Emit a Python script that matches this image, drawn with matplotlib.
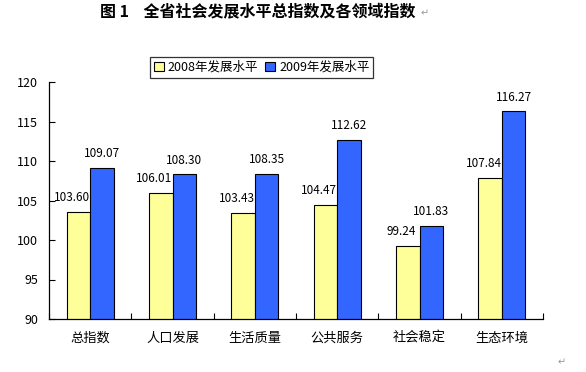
import matplotlib
matplotlib.use('Agg')
import matplotlib.pyplot as plt
import numpy as np

categories = ['总指数', '人口发展', '生活质量', '公共服务', '社会稳定', '生态环境']
values_2008 = [103.60, 106.01, 103.43, 104.47, 99.24, 107.84]
values_2009 = [109.07, 108.30, 108.35, 112.62, 101.83, 116.27]
series_names = ['2008年发展水平', '2009年发展水平']

plt.rcParams['font.family'] = ['Liberation Sans Narrow', 'Noto Sans CJK SC', 'DejaVu Sans']

fig = plt.figure(figsize=(5.86, 3.72), dpi=100)
ax = fig.add_axes([49/586, 1-319/372, 494/586, 237/372])

x = np.arange(len(categories))
w = 0.286
b1 = ax.bar(x - w/2, values_2008, w, color='#FFFF99', edgecolor='black', linewidth=0.8, label=series_names[0])
b2 = ax.bar(x + w/2, values_2009, w, color='#3366FF', edgecolor='black', linewidth=0.8, label=series_names[1])

# yellow labels sit a little left of their bars, as in the original
for bars, vals, shift in ((b1, values_2008, -0.08), (b2, values_2009, 0.0)):
    for rect, v in zip(bars, vals):
        ax.text(rect.get_x() + rect.get_width()/2 + shift, v + 1.0, f'{v:.2f}',
                ha='center', va='bottom', fontsize=8.5)

ax.set_ylim(90, 120)
ax.set_yticks(range(90, 121, 5))
ax.set_xlim(-0.5, len(categories) - 0.5)
ax.set_xticks(x)
ax.set_xticklabels(categories, fontsize=9.5, family=['Noto Sans CJK SC'])
ax.set_xticks(np.arange(-0.5, len(categories)), minor=True)
ax.tick_params(axis='x', which='major', length=0, pad=9)
ax.tick_params(axis='x', which='minor', direction='in', length=4, width=0.8)
ax.tick_params(axis='y', direction='in', length=4, width=0.8, labelsize=9, pad=8)
ax.spines['top'].set_visible(False)
ax.spines['right'].set_visible(False)
ax.spines['left'].set_linewidth(0.9)
ax.spines['bottom'].set_linewidth(0.9)

leg = ax.legend(loc='center', bbox_to_anchor=(261.5/586, 1-67.5/372), bbox_transform=fig.transFigure,
                ncol=2, frameon=True, fancybox=False, handlelength=0.8, handleheight=0.8,
                handletextpad=0.3, columnspacing=0.6, borderpad=0.3, borderaxespad=0,
                prop={'family': ['Noto Sans CJK SC'], 'size': 9})
leg.get_frame().set_edgecolor('black')
leg.get_frame().set_linewidth(0.9)

fig.text(258/586, 1-11/372, '图 1    全省社会发展水平总指数及各领域指数', ha='center', va='center',
         fontsize=11.5, fontweight='bold', family=['Noto Sans CJK SC'])
fig.text(421/586, 1-13/372, '↵', ha='left', va='center', fontsize=7, color='#999999', family=['DejaVu Sans'])
fig.text(562/586, 1-362/372, '↵', ha='center', va='center', fontsize=7, color='#999999', family=['DejaVu Sans'])

fig.savefig('out.png', dpi=100)
